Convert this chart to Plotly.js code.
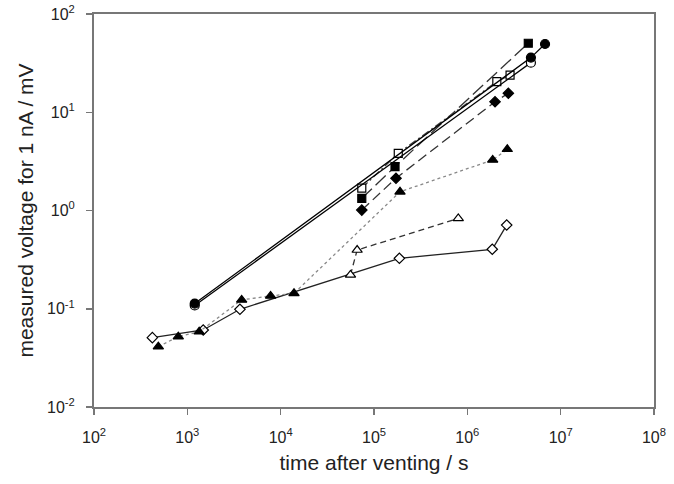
<!DOCTYPE html>
<html>
<head>
<meta charset="utf-8">
<script src="https://cdn.plot.ly/plotly-3.0.1.min.js"></script>
<style>html,body{margin:0;padding:0;background:#fff;}#chart{width:674px;height:484px;}</style>
</head>
<body>
<div id="chart"></div>
<script>
// Data
var filledCircleX = [1200, 4.8e6, 6.8e6];
var filledCircleY = [0.113, 36, 49.5];
var openCircleX = [1200, 4.8e6];
var openCircleY = [0.108, 32];
var openSquareX = [7.4e4, 1.82e5, 2.07e6, 2.87e6];
var openSquareY = [1.69, 3.82, 20.5, 23.9];
var filledSquareX = [7.4e4, 1.68e5, 4.5e6];
var filledSquareY = [1.33, 2.79, 50.4];
var filledDiamondX = [7.4e4, 1.72e5, 1.98e6, 2.75e6];
var filledDiamondY = [1.01, 2.13, 12.8, 15.6];
var filledTriangleX = [489, 800, 1340, 3820, 7800, 13900, 1.9e5, 1.87e6, 2.68e6];
var filledTriangleY = [0.0411, 0.052, 0.0583, 0.123, 0.135, 0.1436, 1.55, 3.27, 4.2];
var openTriangleX = [5.6e4, 6.6e4, 8.0e5];
var openTriangleY = [0.221, 0.396, 0.83];
var openDiamondX = [422, 1480, 3660, 1.87e5, 1.85e6, 2.64e6];
var openDiamondY = [0.0508, 0.0608, 0.0987, 0.326, 0.403, 0.711];
var xTickVals = [1e2, 1e3, 1e4, 1e5, 1e6, 1e7, 1e8];
var xTickText = ['10<sup>2</sup>', '10<sup>3</sup>', '10<sup>4</sup>', '10<sup>5</sup>', '10<sup>6</sup>', '10<sup>7</sup>', '10<sup>8</sup>'];
var yTickVals = [1e-2, 1e-1, 1e0, 1e1, 1e2];
var yTickText = ['10<sup>-2</sup>', '10<sup>-1</sup>', '10<sup>0</sup>', '10<sup>1</sup>', '10<sup>2</sup>'];

function tr(x, y, sym, fill, dash, lineColor, size) {
  return {
    x: x, y: y, type: 'scatter', mode: 'lines+markers',
    line: {color: lineColor, width: 1.3, dash: dash},
    marker: {symbol: sym, size: size, color: fill, line: {color: '#000', width: 1.2}},
    showlegend: false, hoverinfo: 'skip'
  };
}

var data = [
  tr(openDiamondX, openDiamondY, 'diamond', '#fff', 'solid', '#222', 8),
  tr(openTriangleX, openTriangleY, 'triangle-up', '#fff', '6px,4px', '#333', 9),
  tr(filledTriangleX, filledTriangleY, 'triangle-up', '#000', 'dot', '#888', 9),
  tr(filledDiamondX, filledDiamondY, 'diamond', '#000', '10px,5px', '#333', 8),
  tr(filledSquareX, filledSquareY, 'square', '#000', '14px,5px', '#333', 8),
  tr(openSquareX, openSquareY, 'square', '#fff', '8px,3px,2px,3px', '#444', 8),
  tr(openCircleX, openCircleY, 'circle', '#fff', 'solid', '#000', 9),
  tr(filledCircleX, filledCircleY, 'circle', '#000', 'solid', '#000', 9)
];

var fam = 'Liberation Sans, Arial, sans-serif';
var axisCommon = {
  type: 'log', showgrid: false, zeroline: false,
  showline: true, linecolor: '#777', linewidth: 2, mirror: true,
  ticks: 'outside', ticklen: 6, tickwidth: 1.5, tickcolor: '#777',
  tickmode: 'array',
  tickfont: {family: fam, size: 16, color: '#222'}
};

var layout = {
  width: 674, height: 484,
  margin: {l: 94, r: 20, t: 14, b: 77},
  paper_bgcolor: '#fff', plot_bgcolor: '#fff',
  xaxis: Object.assign({}, axisCommon, {
    range: [2, 8.0001], tickvals: xTickVals, ticktext: xTickText, ticklabelstandoff: 9,
    title: {text: 'time after venting / s', standoff: 10,
      font: {family: fam, size: 21, color: '#222'}}
  }),
  yaxis: Object.assign({}, axisCommon, {
    range: [-2.0001, 2.0001], tickvals: yTickVals, ticktext: yTickText, ticklabelstandoff: 8,
    title: {text: 'measured voltage for 1 nA / mV', standoff: 8,
      font: {family: fam, size: 21, color: '#222'}}
  })
};

Plotly.newPlot('chart', data, layout, {displayModeBar: false, staticPlot: true});
</script>
</body>
</html>
